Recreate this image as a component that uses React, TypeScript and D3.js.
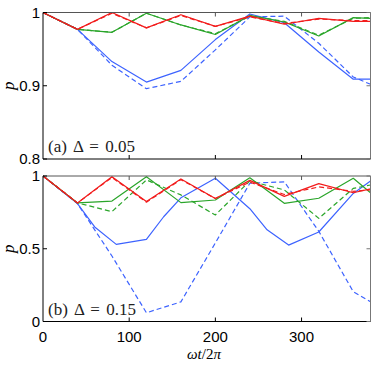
import React from 'react'
import * as d3 from 'd3'

// time grid (ωt/2π)
const tGrid = [0, 40, 80, 120, 160, 200, 240, 280, 320, 360, 380]

// panel (a) Δ = 0.05
const redSolidA = [1, 0.977, 1.0, 0.979, 0.997, 0.981, 0.995, 0.984, 0.992, 0.988, 0.988]
const redDashedA = [1, 0.977, 0.999, 0.979, 0.996, 0.981, 0.994, 0.985, 0.991, 0.989, 0.989]
const greenSolidA = [1, 0.977, 0.973, 0.999, 0.983, 0.97, 0.996, 0.987, 0.968, 0.993, 0.992]
const greenDashedA = [1, 0.977, 0.973, 0.999, 0.983, 0.971, 0.995, 0.988, 0.969, 0.992, 0.993]
const blueSolidA = [1, 0.977, 0.933, 0.905, 0.921, 0.963, 0.998, 0.986, 0.946, 0.909, 0.909]
const blueDashedA = [1, 0.977, 0.928, 0.896, 0.906, 0.949, 0.994, 0.995, 0.958, 0.912, 0.902]

// panel (b) Δ = 0.15
const redSolidB = [1, 0.815, 0.995, 0.825, 0.98, 0.845, 0.97, 0.86, 0.948, 0.885, 0.912]
const redDashedB = [1, 0.815, 0.99, 0.82, 0.975, 0.845, 0.958, 0.873, 0.925, 0.895, 0.905]
const greenSolidB = [1, 0.815, 0.828, 0.995, 0.817, 0.835, 0.988, 0.812, 0.847, 0.984, 0.885]
const greenDashedB = [1, 0.815, 0.755, 0.973, 0.87, 0.732, 0.966, 0.904, 0.709, 0.915, 0.938]
const blueSolidBT = [0, 40, 60, 85, 120, 140, 160, 200, 240, 260, 285, 320, 360, 380]
const blueSolidB = [1, 0.81, 0.65, 0.53, 0.565, 0.72, 0.85, 0.985, 0.775, 0.63, 0.525, 0.615, 0.88, 0.965]
const blueDashedB = [1, 0.81, 0.45, 0.06, 0.135, 0.54, 0.95, 0.96, 0.62, 0.205, 0.135]

const xTicks = [0, 100, 200, 300]
const yTicksA = [0.8, 0.9, 1]
const yTicksB = [0, 0.5, 1]

const RED = '#f21c1c'
const GREEN = '#2aa52a'
const BLUE = '#3d63ff'

const SANS = "'Liberation Sans', Arial, sans-serif"
const SERIF = "'Liberation Serif', 'DejaVu Serif', serif"

const W = 374
const H = 365
const left = 43
const right = 370.5

const x = d3.scaleLinear().domain([0, 380]).range([left, right])

function Panel({ top, bottom, domain, yTicks, series, label, showXLabels, id }) {
  const y = d3.scaleLinear().domain(domain).range([bottom, top])
  const gen = d3.line<[number, number]>().x(d => x(d[0])).y(d => y(d[1]))
  return (
    <g>
      <defs>
        <clipPath id={id}>
          <rect x={left} y={top - 1} width={right - left} height={bottom - top + 2} />
        </clipPath>
      </defs>
      <rect x={left} y={top} width={right - left} height={bottom - top} fill="#fff" />
      <g clipPath={`url(#${id})`}>
        {series.map((s, i) => (
          <path key={i} d={gen(s.t.map((t, j) => [t, s.v[j]]))} fill="none" stroke={s.color}
            strokeWidth={1.2} strokeDasharray={s.dashed ? '5,3' : null} strokeLinejoin="round" />
        ))}
      </g>
      {/* box */}
      <line x1={left} x2={right} y1={top} y2={top} stroke="#555" strokeWidth={1} />
      <line x1={right} x2={right} y1={top} y2={bottom} stroke="#777" strokeWidth={1} />
      <line x1={left} x2={left} y1={top} y2={bottom} stroke="#000" strokeWidth={1} />
      <line x1={left} x2={right} y1={bottom} y2={bottom} stroke="#000" strokeWidth={1} />
      {xTicks.filter(t => t > 0).map(t => (
        <g key={t}>
          <line x1={x(t)} x2={x(t)} y1={bottom} y2={bottom - 4} stroke="#000" />
          <line x1={x(t)} x2={x(t)} y1={top} y2={top + 4} stroke="#555" />
        </g>
      ))}
      {yTicks.map(v => (
        <g key={v}>
          <line x1={left} x2={left + 4} y1={y(v)} y2={y(v)} stroke="#000" />
          <line x1={right} x2={right - 4} y1={y(v)} y2={y(v)} stroke="#777" />
          <text x={left - 3} y={y(v)} dy="0.36em" textAnchor="end" fontFamily={SANS} fontSize={15}>{String(v)}</text>
        </g>
      ))}
      {showXLabels && xTicks.map(t => (
        <text key={t} x={x(t)} y={bottom + 20} textAnchor="middle" fontFamily={SANS} fontSize={15}>{t}</text>
      ))}
      <text x={9} y={(top + bottom) / 2} transform={`rotate(-90, 9, ${(top + bottom) / 2})`} textAnchor="middle" dy="0.3em"
        fontFamily={SERIF} fontStyle="italic" fontSize={17}>p</text>
      <text x={left + 5} y={bottom - 7} fontFamily={SERIF} fontSize={17} wordSpacing={2} fill="#222">
        {label}
      </text>
    </g>
  )
}

export default function App() {
  const seriesA = [
    { t: tGrid, v: blueSolidA, color: BLUE, dashed: false },
    { t: tGrid, v: blueDashedA, color: BLUE, dashed: true },
    { t: tGrid, v: greenSolidA, color: GREEN, dashed: false },
    { t: tGrid, v: greenDashedA, color: GREEN, dashed: true },
    { t: tGrid, v: redSolidA, color: RED, dashed: false },
    { t: tGrid, v: redDashedA, color: RED, dashed: true },
  ]
  const seriesB = [
    { t: blueSolidBT, v: blueSolidB, color: BLUE, dashed: false },
    { t: tGrid, v: blueDashedB, color: BLUE, dashed: true },
    { t: tGrid, v: greenSolidB, color: GREEN, dashed: false },
    { t: tGrid, v: greenDashedB, color: GREEN, dashed: true },
    { t: tGrid, v: redSolidB, color: RED, dashed: false },
    { t: tGrid, v: redDashedB, color: RED, dashed: true },
  ]
  return (
    <svg width={W} height={H} style={{ position: 'absolute', left: 0, top: 0, background: '#fff' }}>
      <Panel id="clipA" top={12.5} bottom={159} domain={[0.8, 1]} yTicks={yTicksA} series={seriesA}
        label="(a) Δ = 0.05" showXLabels={false} />
      <Panel id="clipB" top={176} bottom={321.5} domain={[0, 1]} yTicks={yTicksB} series={seriesB}
        label="(b) Δ = 0.15" showXLabels={true} />
      <text x={204} y={359} textAnchor="middle" fontFamily={SERIF} fontSize={15}>
        <tspan fontStyle="italic">ωt</tspan>/2<tspan fontStyle="italic">π</tspan>
      </text>
    </svg>
  )
}
